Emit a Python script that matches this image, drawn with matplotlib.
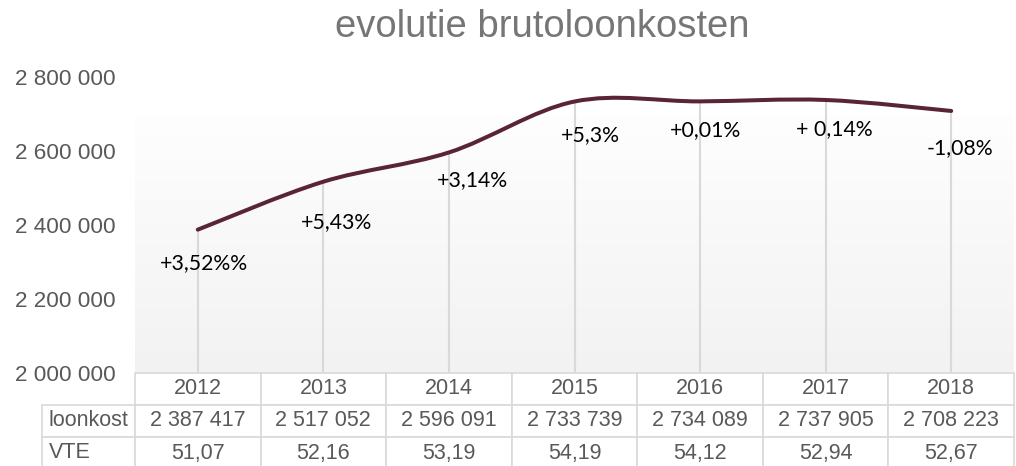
import numpy as np
import matplotlib
matplotlib.use('Agg')
import matplotlib.pyplot as plt
from matplotlib.path import Path
from matplotlib.patches import PathPatch
from matplotlib.ticker import FuncFormatter
from matplotlib.table import Table

# data
years = ['2012', '2013', '2014', '2015', '2016', '2017', '2018']
loonkost = [2387417, 2517052, 2596091, 2733739, 2734089, 2737905, 2708223]
vte = ['51,07', '52,16', '53,19', '54,19', '54,12', '52,94', '52,67']
growth_labels = ['+3,52%%', '+5,43%', '+3,14%', '+5,3%', '+0,01%', '+ 0,14%', '-1,08%']
yticks = [2000000, 2200000, 2400000, 2600000, 2800000]

# label offsets in pixels (dx, dy) relative to each point
label_offsets = [(6, -33), (13, -40), (24, -28), (16, -34), (5, -29), (9, -29), (9, -37)]

W, H = 1016, 466
fig = plt.figure(figsize=(W / 100, H / 100), dpi=100)
ax_left, ax_right, ax_top, ax_bottom = 135, 1014, 77, 373
ax = fig.add_axes([ax_left / W, 1 - ax_bottom / H, (ax_right - ax_left) / W, (ax_bottom - ax_top) / H])
ax.set_xlim(-0.5, len(years) - 0.5)
ax.set_ylim(yticks[0], yticks[-1])

# gradient background (plot area starts a bit below the top tick)
grad_top = (ax_bottom - 115) / (ax_bottom - ax_top)
grad = np.linspace(0, 1, 256).reshape(-1, 1)
cmap = matplotlib.colors.LinearSegmentedColormap.from_list('bg', ['#f2f2f2', '#fefefe'])
ax.imshow(grad, cmap=cmap, aspect='auto', origin='lower',
          extent=[0, 1, 0, grad_top], transform=ax.transAxes, zorder=0)
ax.add_patch(plt.Rectangle((0, grad_top), 1, 1 - grad_top, transform=ax.transAxes,
                           facecolor='white', edgecolor='none', zorder=0))

x = np.arange(len(years))
y = np.array(loonkost, dtype=float)

# drop lines
ax.vlines(x, yticks[0], y, color='#d9d9d9', linewidth=1.5, zorder=1)

# smoothed line (Bezier through the data points)
pts = np.column_stack([x, y])
verts = [pts[0]]
codes = [Path.MOVETO]
n = len(pts)
for i in range(n - 1):
    p_prev = pts[max(i - 1, 0)]
    p_next2 = pts[min(i + 2, n - 1)]
    c1 = pts[i] + (pts[i + 1] - p_prev) / 6
    c2 = pts[i + 1] - (p_next2 - pts[i]) / 6
    verts += [c1, c2, pts[i + 1]]
    codes += [Path.CURVE4] * 3
ax.add_patch(PathPatch(Path(verts, codes), facecolor='none', edgecolor='#5a2437',
                       linewidth=2.9, capstyle='round', zorder=3))

for xi, yi, lab, (dx, dy) in zip(x, y, growth_labels, label_offsets):
    ax.annotate(lab, (xi, yi), xytext=(dx, dy), textcoords='offset pixels',
                ha='center', va='center', fontsize=15.3, family='Lato', color='black', zorder=4)

# axes styling
for s in ax.spines.values():
    s.set_visible(False)
ax.set_xticks([])
ax.set_yticks(yticks)
ax.yaxis.set_major_formatter(FuncFormatter(lambda v, p: f'{int(v):,}'.replace(',', ' ')))
ax.tick_params(axis='y', length=0, pad=14, labelsize=16.2, labelcolor='#595959')
for t in ax.get_yticklabels():
    t.set_family('Liberation Sans')

# data table below the plot (bbox covers the year columns only)
row_w = 93 / (ax_right - ax_left)
tbl_h = 96 / (ax_bottom - ax_top)
cell_text = [[f'{v:,}'.replace(',', ' ') for v in loonkost], vte]
tbl = Table(ax, bbox=[0, -tbl_h, 1, tbl_h])
col_w = 1 / len(years)
for c, yr in enumerate(years):
    tbl.add_cell(0, c, width=col_w, height=1 / 3, text=yr, loc='center')
for r, (name, row) in enumerate(zip(['loonkost', 'VTE'], cell_text), start=1):
    tbl.add_cell(r, -1, width=row_w, height=1 / 3, text=name, loc='left')
    for c, val in enumerate(row):
        tbl.add_cell(r, c, width=col_w, height=1 / 3, text=val, loc='center')
tbl.auto_set_font_size(False)
tbl.set_fontsize(15.5)
for (r, c), cell in tbl.get_celld().items():
    cell.set_edgecolor('#d9d9d9')
    cell.set_linewidth(1.2)
    cell.get_text().set_color('#595959')
    cell.get_text().set_family('Liberation Sans')
    if c == -1:
        cell.PAD = 0.07
ax.add_table(tbl)

fig.text(542 / W, 1 - 37 / H, 'evolutie brutoloonkosten', ha='center', va='baseline',
         fontsize=27.5, color='#767676', family='Liberation Sans')

fig.savefig('out.png', dpi=100, facecolor='white')
